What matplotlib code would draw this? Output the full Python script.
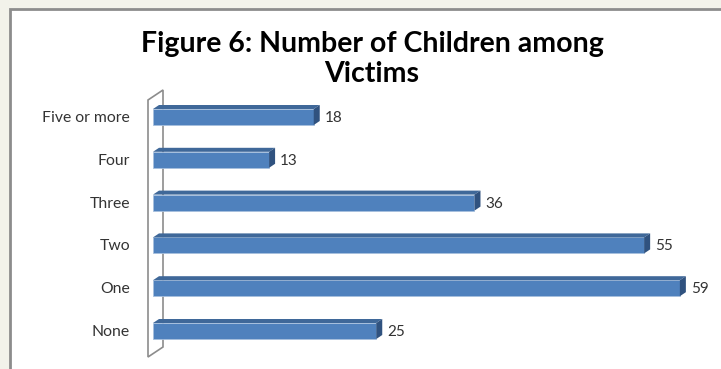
import matplotlib
matplotlib.use('Agg')
import matplotlib.pyplot as plt
from matplotlib.patches import Rectangle, Polygon
from matplotlib.transforms import Affine2D

categories = ['None', 'One', 'Two', 'Three', 'Four', 'Five or more']
counts = [25, 59, 55, 36, 13, 18]
title = 'Figure 6: Number of Children among\nVictims'

W, H = 721, 369
fig = plt.figure(figsize=(W / 100, H / 100), dpi=100)
fig.patch.set_facecolor('#f2f2ea')

# pixel transform (origin top-left)
px = Affine2D().scale(1 / W, -1 / H).translate(0, 1) + fig.transFigure

# white chart area with grey border
fig.patches.append(Rectangle((10, 9), 720, 370, transform=px, facecolor='white',
                             edgecolor='#8c8c8c', linewidth=2, zorder=-5))

# plot area: x=0 at px 153, 8.93 px per unit; categories 42.8 px apart
x0, sx = 153, 8.93
y_none, sy = 332, 42.8
ax_left, ax_right, ax_top, ax_bot = 153, 721, 70, 365
ax = fig.add_axes([ax_left / W, 1 - ax_bot / H, (ax_right - ax_left) / W, (ax_bot - ax_top) / H])
ax.set_xlim(0, (ax_right - x0) / sx)
ax.set_ylim((y_none - ax_bot) / sy, (y_none - ax_top) / sy)
ax.axis('off')
ax.patch.set_alpha(0)

# back wall
wall = Polygon([(148, 100), (163, 90), (163, 347), (148, 357)], closed=True, transform=px,
               facecolor='white', edgecolor='#8c8c8c', linewidth=1.2, zorder=1, clip_on=False)
ax.add_patch(wall)

bh = 16 / sy
dx, dy = 6 / sx, 4 / sy
front = '#4f81bd'
topc = '#3f6899'
side = '#30527f'
for i, v in enumerate(counts):
    y0 = i - bh / 2 + 1 / sy
    ax.add_patch(Rectangle((0, y0), v, bh, facecolor=front, edgecolor='#a7c0de',
                           linewidth=0.6, zorder=3))
    ax.add_patch(Polygon([(0, y0 + bh), (v, y0 + bh), (v + dx, y0 + bh + dy), (dx, y0 + bh + dy)],
                         facecolor=topc, edgecolor='none', zorder=3))
    ax.add_patch(Polygon([(v, y0), (v + dx, y0 + dy), (v + dx, y0 + bh + dy), (v, y0 + bh)],
                         facecolor=side, edgecolor='none', zorder=3))
    ax.text(v + dx + 5 / sx, i, str(v), ha='left', va='center', fontsize=11,
            family='Lato', color='#333333', zorder=4)
    ax.text(-23 / sx, i, categories[i], ha='right', va='center', fontsize=11.3,
            family='Lato', color='#333333', clip_on=False)

fig.text(372 / W, 1 - 31 / H, title, ha='center', va='top', fontsize=20.5,
         family='Lato', fontweight='bold', color='black', linespacing=1.2)

fig.savefig('out.png', dpi=100, facecolor=fig.get_facecolor())
